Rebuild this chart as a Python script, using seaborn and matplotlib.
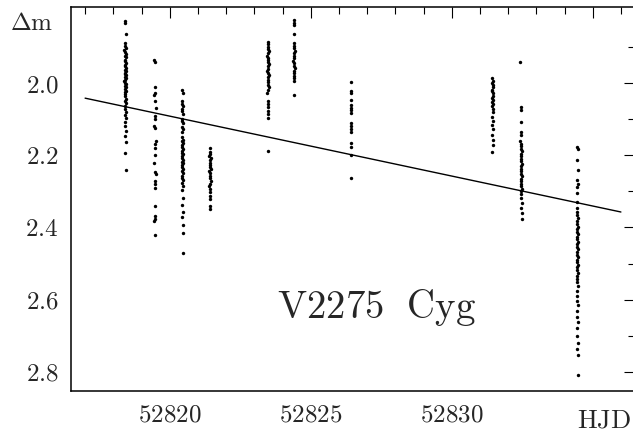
import numpy as np
import pandas as pd
import matplotlib
matplotlib.use("Agg")
import matplotlib.pyplot as plt
import seaborn as sns
from matplotlib.ticker import FixedLocator, FuncFormatter, MultipleLocator

# ---- photometry of V2275 Cyg, one list pair per night ----
n1_hjd = [52818.41, 52818.43, 52818.45, 52818.40, 52818.42, 52818.44, 52818.39, 52818.43, 52818.46, 52818.41,
          52818.44, 52818.42, 52818.40, 52818.45, 52818.43, 52818.41, 52818.46, 52818.42, 52818.44, 52818.40,
          52818.43, 52818.45, 52818.41, 52818.44, 52818.42, 52818.39, 52818.43, 52818.46, 52818.41, 52818.44,
          52818.42, 52818.45, 52818.40, 52818.43, 52818.41, 52818.44, 52818.42, 52818.46, 52818.43, 52818.40,
          52818.44, 52818.42, 52818.45, 52818.41, 52818.43, 52818.44, 52818.42, 52818.45, 52818.43, 52818.44]
n1_dm = [1.828, 1.833, 1.862, 1.889, 1.895, 1.901, 1.907, 1.913, 1.918, 1.923,
         1.928, 1.934, 1.939, 1.944, 1.949, 1.953, 1.957, 1.962, 1.966, 1.970,
         1.974, 1.978, 1.982, 1.986, 1.990, 1.994, 1.998, 2.002, 2.006, 2.011,
         2.015, 2.020, 2.025, 2.030, 2.036, 2.042, 2.048, 2.055, 2.062, 2.070,
         2.079, 2.088, 2.097, 2.107, 2.118, 2.131, 2.145, 2.162, 2.192, 2.240]

n2_hjd = [52819.46, 52819.48, 52819.47, 52819.49, 52819.46, 52819.48, 52819.50, 52819.47, 52819.49, 52819.46,
          52819.48, 52819.50, 52819.47, 52819.49, 52819.48, 52819.46, 52819.48, 52819.50, 52819.47, 52819.49,
          52819.48, 52819.47, 52819.49, 52819.48, 52819.46, 52819.49]
n2_dm = [1.936, 1.941, 2.011, 2.026, 2.031, 2.050, 2.068, 2.090, 2.099, 2.118,
         2.124, 2.160, 2.168, 2.178, 2.200, 2.222, 2.245, 2.252, 2.270, 2.278,
         2.290, 2.340, 2.368, 2.376, 2.382, 2.420]

n3_hjd = [52820.44, 52820.46, 52820.43, 52820.45, 52820.47, 52820.44, 52820.42, 52820.46, 52820.45, 52820.43,
          52820.47, 52820.44, 52820.46, 52820.42, 52820.45, 52820.48, 52820.44, 52820.46, 52820.43, 52820.45,
          52820.47, 52820.44, 52820.42, 52820.46, 52820.45, 52820.43, 52820.47, 52820.44, 52820.46, 52820.45,
          52820.43, 52820.47, 52820.44, 52820.46, 52820.42, 52820.45, 52820.47, 52820.44, 52820.46, 52820.45,
          52820.46, 52820.45, 52820.46, 52820.45, 52820.46, 52820.46, 52820.46]
n3_dm = [2.019, 2.028, 2.050, 2.056, 2.062, 2.072, 2.078, 2.085, 2.098, 2.104,
         2.110, 2.122, 2.128, 2.134, 2.150, 2.156, 2.161, 2.166, 2.172, 2.177,
         2.182, 2.187, 2.192, 2.197, 2.202, 2.207, 2.212, 2.217, 2.222, 2.227,
         2.232, 2.238, 2.244, 2.250, 2.256, 2.262, 2.268, 2.276, 2.285, 2.296,
         2.318, 2.338, 2.358, 2.372, 2.392, 2.415, 2.470]

n4_hjd = [52821.42, 52821.44, 52821.43, 52821.41, 52821.45, 52821.43, 52821.42, 52821.44, 52821.43, 52821.45,
          52821.41, 52821.43, 52821.44, 52821.42, 52821.45, 52821.43, 52821.41, 52821.44, 52821.42, 52821.43,
          52821.44, 52821.43, 52821.44]
n4_dm = [2.180, 2.190, 2.196, 2.202, 2.208, 2.214, 2.220, 2.226, 2.232, 2.238,
         2.244, 2.250, 2.256, 2.262, 2.270, 2.278, 2.286, 2.294, 2.302, 2.312,
         2.322, 2.340, 2.350]

n5_hjd = [52823.48, 52823.50, 52823.47, 52823.49, 52823.51, 52823.48, 52823.46, 52823.50, 52823.49, 52823.47,
          52823.51, 52823.48, 52823.50, 52823.46, 52823.49, 52823.52, 52823.48, 52823.50, 52823.47, 52823.49,
          52823.51, 52823.48, 52823.46, 52823.50, 52823.49, 52823.47, 52823.49, 52823.48, 52823.50, 52823.49]
n5_dm = [1.884, 1.892, 1.899, 1.905, 1.911, 1.917, 1.923, 1.929, 1.935, 1.941,
         1.947, 1.953, 1.959, 1.965, 1.971, 1.977, 1.983, 1.990, 1.997, 2.004,
         2.011, 2.018, 2.026, 2.048, 2.056, 2.066, 2.076, 2.086, 2.095, 2.189]

n6_hjd = [52824.40, 52824.41, 52824.42, 52824.41, 52824.40, 52824.42, 52824.41, 52824.43, 52824.40, 52824.42,
          52824.41, 52824.39, 52824.42, 52824.41, 52824.43, 52824.40, 52824.42, 52824.41, 52824.40, 52824.42,
          52824.41]
n6_dm = [1.824, 1.832, 1.838, 1.863, 1.888, 1.895, 1.902, 1.909, 1.916, 1.923,
         1.930, 1.937, 1.944, 1.951, 1.958, 1.965, 1.972, 1.979, 1.986, 1.993,
         2.032]

n7_hjd = [52826.43, 52826.42, 52826.44, 52826.43, 52826.42, 52826.44, 52826.43, 52826.42, 52826.43, 52826.44,
          52826.42, 52826.43, 52826.44, 52826.43, 52826.42, 52826.43]
n7_dm = [1.996, 2.020, 2.027, 2.046, 2.060, 2.068, 2.075, 2.082, 2.110, 2.118,
         2.127, 2.135, 2.166, 2.177, 2.200, 2.263]

n8_hjd = [52831.44, 52831.46, 52831.43, 52831.45, 52831.47, 52831.44, 52831.42, 52831.46, 52831.45, 52831.43,
          52831.47, 52831.44, 52831.46, 52831.42, 52831.45, 52831.47, 52831.44, 52831.46, 52831.43, 52831.45,
          52831.44, 52831.46, 52831.45, 52831.44]
n8_dm = [1.986, 1.993, 1.999, 2.005, 2.011, 2.017, 2.022, 2.028, 2.034, 2.040,
         2.046, 2.052, 2.058, 2.064, 2.071, 2.080, 2.092, 2.104, 2.116, 2.128,
         2.142, 2.157, 2.170, 2.190]

n9_hjd = [52832.42, 52832.44, 52832.45, 52832.44, 52832.46, 52832.45, 52832.43, 52832.47, 52832.45, 52832.44,
          52832.48, 52832.46, 52832.44, 52832.47, 52832.45, 52832.49, 52832.46, 52832.44, 52832.47, 52832.45,
          52832.48, 52832.46, 52832.44, 52832.47, 52832.46, 52832.48, 52832.45, 52832.47, 52832.46, 52832.48,
          52832.47, 52832.48, 52832.49]
n9_dm = [1.940, 2.066, 2.074, 2.107, 2.134, 2.144, 2.160, 2.167, 2.174, 2.181,
         2.188, 2.195, 2.202, 2.209, 2.216, 2.223, 2.230, 2.237, 2.244, 2.251,
         2.258, 2.265, 2.272, 2.279, 2.286, 2.293, 2.300, 2.308, 2.318, 2.332,
         2.345, 2.360, 2.377]

n10_hjd = [52834.46, 52834.47, 52834.46, 52834.47, 52834.46, 52834.47, 52834.46, 52834.45, 52834.44, 52834.43,
           52834.46, 52834.44, 52834.48, 52834.45, 52834.43, 52834.47, 52834.44, 52834.46, 52834.48, 52834.45,
           52834.43, 52834.47, 52834.44, 52834.46, 52834.48, 52834.45, 52834.43, 52834.47, 52834.44, 52834.46,
           52834.48, 52834.45, 52834.43, 52834.47, 52834.44, 52834.46, 52834.45, 52834.47, 52834.44, 52834.46,
           52834.45, 52834.47, 52834.46, 52834.45, 52834.47, 52834.46, 52834.45, 52834.47, 52834.46, 52834.47,
           52834.47]
n10_dm = [2.176, 2.181, 2.213, 2.241, 2.268, 2.278, 2.288, 2.305, 2.330, 2.345,
          2.357, 2.366, 2.374, 2.382, 2.390, 2.398, 2.405, 2.412, 2.419, 2.426,
          2.433, 2.440, 2.447, 2.454, 2.461, 2.468, 2.475, 2.482, 2.489, 2.496,
          2.503, 2.510, 2.518, 2.526, 2.534, 2.542, 2.552, 2.562, 2.575, 2.590,
          2.605, 2.616, 2.632, 2.648, 2.663, 2.680, 2.700, 2.720, 2.738, 2.755,
          2.810]

# linear trend over the whole run
fit_hjd = [52817.0, 52836.0]
fit_dm = [2.041, 2.357]

# axis annotation
x_major = [52820, 52825, 52830, 52835]
y_major = [2.0, 2.2, 2.4, 2.6, 2.8]
y_minor = [1.9, 2.1, 2.3, 2.5, 2.7]
star_name = r"$\mathrm{V2275\ \ Cyg}$"
x_title = r"$\mathrm{HJD}$"
y_title = r"$\Delta\mathrm{m}$"

nights = [(n1_hjd, n1_dm), (n2_hjd, n2_dm), (n3_hjd, n3_dm), (n4_hjd, n4_dm), (n5_hjd, n5_dm),
          (n6_hjd, n6_dm), (n7_hjd, n7_dm), (n8_hjd, n8_dm), (n9_hjd, n9_dm), (n10_hjd, n10_dm)]
for h, d in nights:
    assert len(h) == len(d), (len(h), len(d))
df = pd.DataFrame({
    "hjd": np.concatenate([h for h, _ in nights]),
    "dm": np.concatenate([d for _, d in nights]),
})

sns.set_style("white")
plt.rcParams["mathtext.fontset"] = "cm"
plt.rcParams["font.family"] = ["DejaVu Serif"]

W, H = 633, 432
fig = plt.figure(figsize=(W / 100, H / 100), dpi=100)
left, right, top, bottom = 71, 635, 7, 390.7
ax = fig.add_axes([left / W, 1 - bottom / H, (right - left) / W, (bottom - top) / H])

sns.scatterplot(data=df, x="hjd", y="dm", color="black", s=6, marker="o",
                linewidth=0, ax=ax, legend=False)
sns.lineplot(x=fit_hjd, y=fit_dm, color="black", lw=1.0, ax=ax)

ax.set_xlim(52816.5, 52836.5)
ax.set_ylim(2.853, 1.788)
ax.set_xlabel("")
ax.set_ylabel("")

ax.xaxis.set_major_locator(FixedLocator(x_major))
ax.xaxis.set_minor_locator(MultipleLocator(1))
ax.xaxis.set_major_formatter(FuncFormatter(lambda v, p: "" if v == x_major[-1] else f"${v:.0f}$"))
ax.yaxis.set_major_locator(FixedLocator(y_major))
ax.yaxis.set_minor_locator(FixedLocator(y_minor))
ax.yaxis.set_major_formatter(FuncFormatter(lambda v, p: f"${v:.1f}$"))

ax.tick_params(which="both", direction="in", top=True, right=True, width=0.8, color="black")
ax.tick_params(which="major", length=8, labelsize=18, pad=9)
ax.tick_params(which="minor", length=5)
for s in ax.spines.values():
    s.set_linewidth(1.1)
    s.set_color("black")

ax.text((377 - left) / (right - left), (bottom - 318) / (bottom - top), star_name,
        transform=ax.transAxes, ha="center", va="baseline", fontsize=28)
fig.text(31.5 / W, 1 - 30.5 / H, y_title, ha="center", va="baseline", fontsize=18)
fig.text(604 / W, 1 - 427 / H, x_title, ha="center", va="baseline", fontsize=19)

fig.savefig("out.png", dpi=100)
